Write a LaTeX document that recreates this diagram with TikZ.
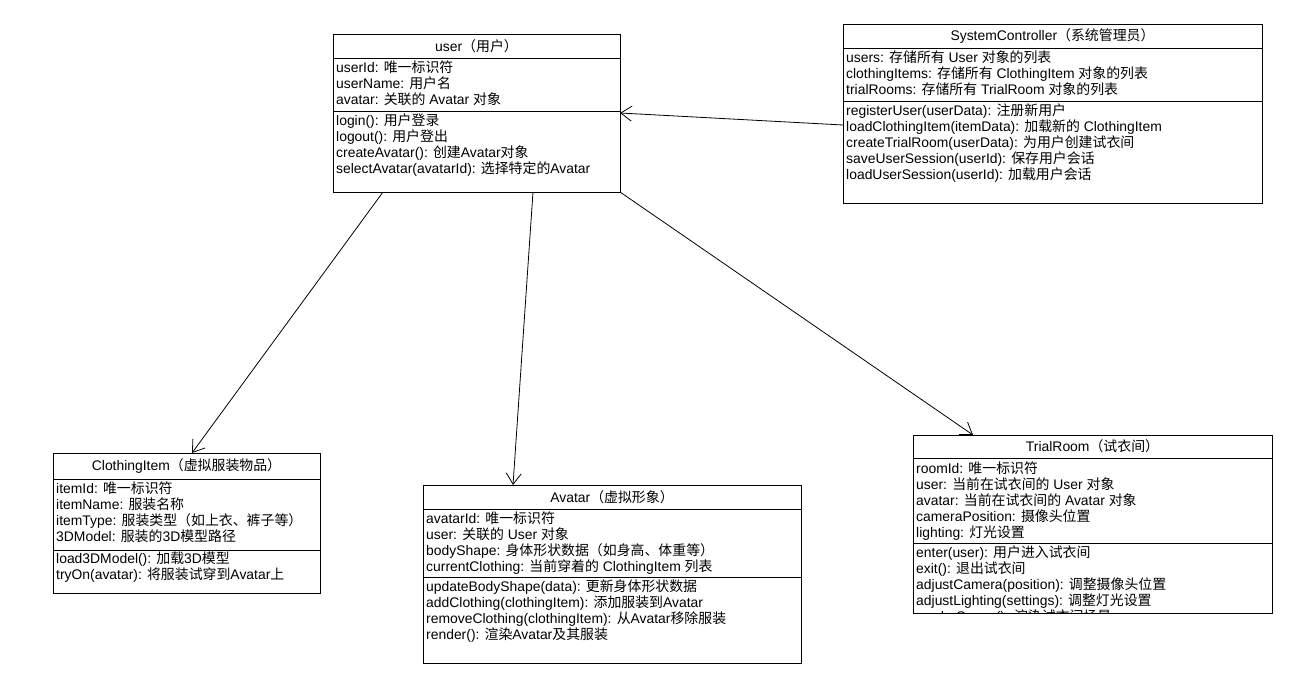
\documentclass[tikz,border=0pt]{standalone}
\usepackage{fontspec}
\setmainfont{Liberation Sans}
\newfontfamily\cjk{Noto Sans CJK SC}
\usetikzlibrary{arrows.meta}

% Chinese runs switch to the CJK font by themselves
\XeTeXinterchartokenstate=1
\newXeTeXintercharclass\cjkclass
\newcount\cjkcnt
\cjkcnt="4E00
\loop \XeTeXcharclass\cjkcnt=\cjkclass \ifnum\cjkcnt<"9FFF \advance\cjkcnt by 1 \repeat
\XeTeXcharclass"3001=\cjkclass
\XeTeXcharclass"FF08=\cjkclass
\XeTeXcharclass"FF09=\cjkclass
\XeTeXinterchartoks 0 \cjkclass={\begingroup\cjk}
\XeTeXinterchartoks 4095 \cjkclass={\begingroup\cjk}
\XeTeXinterchartoks \cjkclass 0={\endgroup}
\XeTeXinterchartoks \cjkclass 4095={\endgroup}

\begin{document}
\begin{tikzpicture}[x=1pt,y=-1pt,>={Straight Barb[length=11pt,width=15pt]},
	font=\fontsize{13.9}{16}\selectfont,
	box/.style={draw,line width=0.8pt,anchor=north west,inner sep=0pt,outer sep=0pt},
	txt/.style={anchor=north west,align=left,inner sep=0pt}]
	\useasboundingbox (0,0) rectangle (1292,691);
	
	%user
	\node[box,minimum width=287,minimum height=24] (userT) at (333,34) {user（用户）};
	\node[box,minimum width=287,minimum height=53] (userA) at (userT.south west) {};
	\node[box,minimum width=287,minimum height=81] (userM) at (userA.south west) {};
	\node[txt] (userAt) at ([shift={(3pt,-3pt)}]userA.north west) {userId: 唯一标识符\\userName: 用户名\\avatar: 关联的 Avatar 对象};
	\node[txt] (userMt) at ([shift={(3pt,-3pt)}]userM.north west) {login(): 用户登录\\logout(): 用户登出\\createAvatar(): 创建Avatar对象\\selectAvatar(avatarId): 选择特定的Avatar};
	
	%SystemController
	\node[box,minimum width=419,minimum height=24] (scT) at (843,24) {SystemController（系统管理员）};
	\node[box,minimum width=419,minimum height=53] (scA) at (scT.south west) {};
	\node[box,minimum width=419,minimum height=102] (scM) at (scA.south west) {};
	\node[txt] (scAt) at ([shift={(3pt,-3pt)}]scA.north west) {users: 存储所有 User 对象的列表\\clothingItems: 存储所有 ClothingItem 对象的列表\\trialRooms: 存储所有 TrialRoom 对象的列表};
	\node[txt] (scMt) at ([shift={(3pt,-3pt)}]scM.north west) {registerUser(userData): 注册新用户\\loadClothingItem(itemData): 加载新的 ClothingItem\\createTrialRoom(userData): 为用户创建试衣间\\saveUserSession(userId): 保存用户会话\\loadUserSession(userId): 加载用户会话};
	
	%ClothingItem
	\node[box,minimum width=267,minimum height=26] (clothT) at (53,453) {ClothingItem（虚拟服装物品）};
	\node[box,minimum width=267,minimum height=71] (clothA) at (clothT.south west) {};
	\node[box,minimum width=267,minimum height=43] (clothM) at (clothA.south west) {};
	\node[txt] (clothAt) at ([shift={(3pt,-3pt)}]clothA.north west) {itemId: 唯一标识符\\itemName: 服装名称\\itemType: 服装类型（如上衣、裤子等）\\3DModel: 服装的3D模型路径};
	\node[txt] (clothMt) at ([shift={(3pt,-1.5pt)}]clothM.north west) {load3DModel(): 加载3D模型\\tryOn(avatar): 将服装试穿到Avatar上};
	
	%Avatar
	\node[box,minimum width=378,minimum height=24] (avatarT) at (423,485) {Avatar（虚拟形象）};
	\node[box,minimum width=378,minimum height=68] (avatarA) at (avatarT.south west) {};
	\node[box,minimum width=378,minimum height=86] (avatarM) at (avatarA.south west) {};
	\node[txt] (avatarAt) at ([shift={(3pt,-3pt)}]avatarA.north west) {avatarId: 唯一标识符\\user: 关联的 User 对象\\bodyShape: 身体形状数据（如身高、体重等）\\currentClothing: 当前穿着的 ClothingItem 列表};
	\node[txt] (avatarMt) at ([shift={(3pt,-3pt)}]avatarM.north west) {updateBodyShape(data): 更新身体形状数据\\addClothing(clothingItem): 添加服装到Avatar\\removeClothing(clothingItem): 从Avatar移除服装\\render(): 渲染Avatar及其服装};
	
	%TrialRoom
	\node[box,minimum width=359,minimum height=23] (trialT) at (913,435) {TrialRoom（试衣间）};
	\node[box,minimum width=359,minimum height=85] (trialA) at (trialT.south west) {};
	\node[box,minimum width=359,minimum height=70] (trialM) at (trialA.south west) {};
	\node[txt] (trialAt) at ([shift={(3pt,-3.5pt)}]trialA.north west) {roomId: 唯一标识符\\user: 当前在试衣间的 User 对象\\avatar: 当前在试衣间的 Avatar 对象\\cameraPosition: 摄像头位置\\lighting: 灯光设置};
	\begin{scope}
	\clip (trialM.north west) rectangle (trialM.south east);
	\node[txt] (trialMt) at ([shift={(3pt,-3pt)}]trialM.north west) {enter(user): 用户进入试衣间\\exit(): 退出试衣间\\adjustCamera(position): 调整摄像头位置\\adjustLighting(settings): 调整灯光设置\\renderScene(): 渲染试衣间场景};
	\end{scope}
	
	%associations
	\draw[->,line width=0.8pt] ([xshift=50pt]userM.south west) -- ([xshift=139pt]clothT.north west);
	\draw[->,line width=0.8pt] ([xshift=200pt]userM.south west) -- ([xshift=90pt]avatarT.north west);
	\draw[->,line width=0.8pt] (userM.south east) -- ([xshift=60pt]trialT.north west);
	\draw[->,line width=0.8pt] ([yshift=-24pt]scM.north west) -- ([yshift=-2pt]userM.north east);
\end{tikzpicture}
\end{document}
